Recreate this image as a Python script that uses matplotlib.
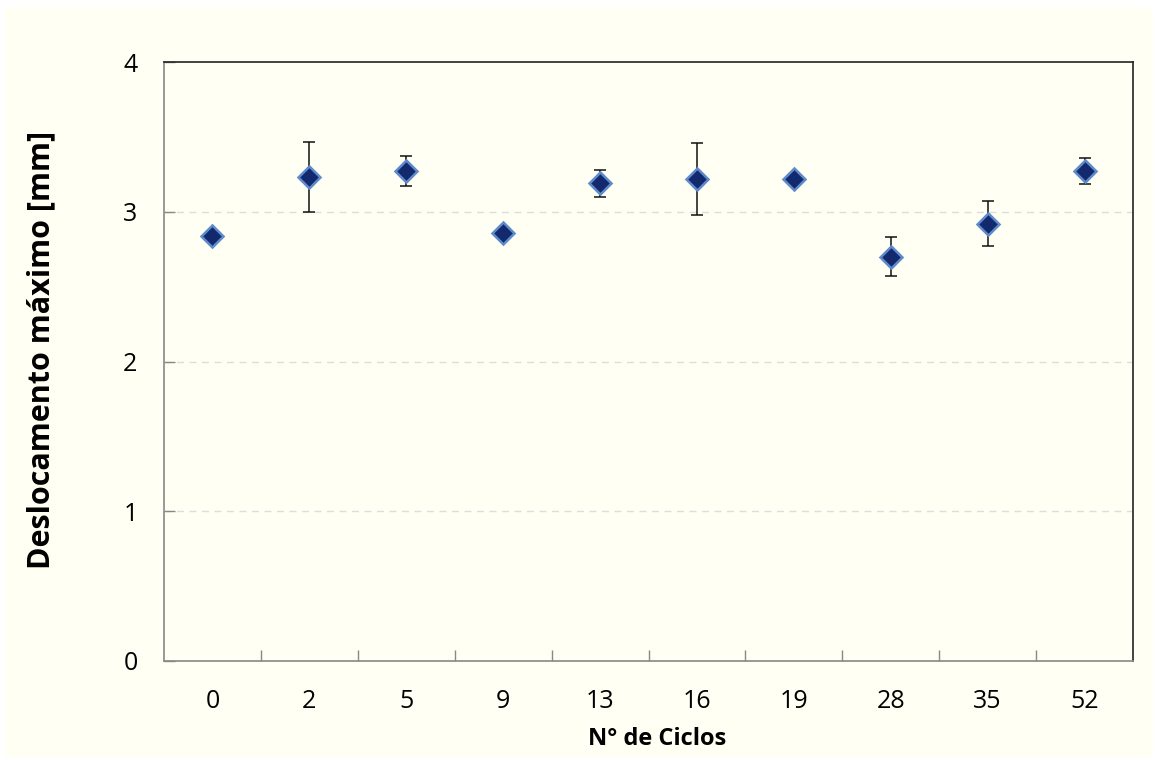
import matplotlib
matplotlib.use("Agg")
import matplotlib.pyplot as plt
from matplotlib.patches import FancyBboxPatch
import numpy as np

# Cycle counts and measured maximum displacement (mm) with standard deviation
ciclos = ["0", "2", "5", "9", "13", "16", "19", "28", "35", "52"]
deslocamento = [2.84, 3.23, 3.27, 2.86, 3.19, 3.22, 3.22, 2.70, 2.92, 3.27]
desvio = [0.0, 0.235, 0.10, 0.0, 0.09, 0.24, 0.0, 0.13, 0.15, 0.086]
y_ticks = [0, 1, 2, 3, 4]

plt.rcParams["font.family"] = ["Open Sans", "DejaVu Sans"]

W, H = 1155, 760
fig = plt.figure(figsize=(W / 100, H / 100), dpi=100, facecolor="white")

bg = "#FFFFF3"
panel = FancyBboxPatch((4 / W, 2 / H), 1149 / W, 751 / H,
                       boxstyle="round,pad=0,rounding_size=0.008",
                       transform=fig.transFigure, facecolor=bg,
                       edgecolor="none", zorder=-10)
fig.patches.append(panel)

ax = fig.add_axes([164 / W, 1 - 661 / H, (1133 - 164) / W, (661 - 62) / H])
ax.set_facecolor(bg)

x = np.arange(len(ciclos))
yerr = np.array(desvio)
mask = yerr > 0
ax.errorbar(x[mask], np.array(deslocamento)[mask], yerr=yerr[mask],
            fmt="none", ecolor="#111111", elinewidth=1.1, capsize=4.5,
            capthick=1.1, zorder=3)
ax.plot(x, deslocamento, linestyle="none", marker="D", markersize=11.5,
        markerfacecolor="#12296E", markeredgecolor="#5F8BCB",
        markeredgewidth=1.8, zorder=4)

ax.set_xlim(-0.5, len(ciclos) - 0.5)
ax.set_ylim(0, 4)
ax.set_yticks(y_ticks)
ax.set_yticklabels([str(v) for v in y_ticks])
ax.set_xticks(x)
ax.set_xticklabels(ciclos)
ax.tick_params(axis="x", which="major", length=0, pad=20, labelsize=18)
ax.set_xticks(np.arange(0.5, len(ciclos) - 1, 1), minor=True)
ax.tick_params(axis="x", which="minor", direction="in", length=8,
               color="#888888", width=1)
ax.tick_params(axis="y", direction="in", length=8, color="#888888",
               width=1, pad=19, labelsize=18)

for v in [1, 2, 3]:
    ax.axhline(v, color="#DDDDDD", linestyle=(0, (5, 4)), linewidth=1,
               zorder=1)

ax.spines["left"].set_color("#888888")
ax.spines["bottom"].set_color("#888888")
ax.spines["top"].set_color("#222222")
ax.spines["right"].set_color("#222222")
for s in ax.spines.values():
    s.set_linewidth(1.2)

ax.set_xlabel("N° de Ciclos", fontsize=17, fontweight="bold")
ax.xaxis.set_label_coords(0.509, -0.110)
ax.set_ylabel("Deslocamento máximo [mm]", fontsize=22, fontweight="bold")
ax.yaxis.set_label_coords(-0.111, 0.52)

fig.savefig("out.png", dpi=100, facecolor="white")
